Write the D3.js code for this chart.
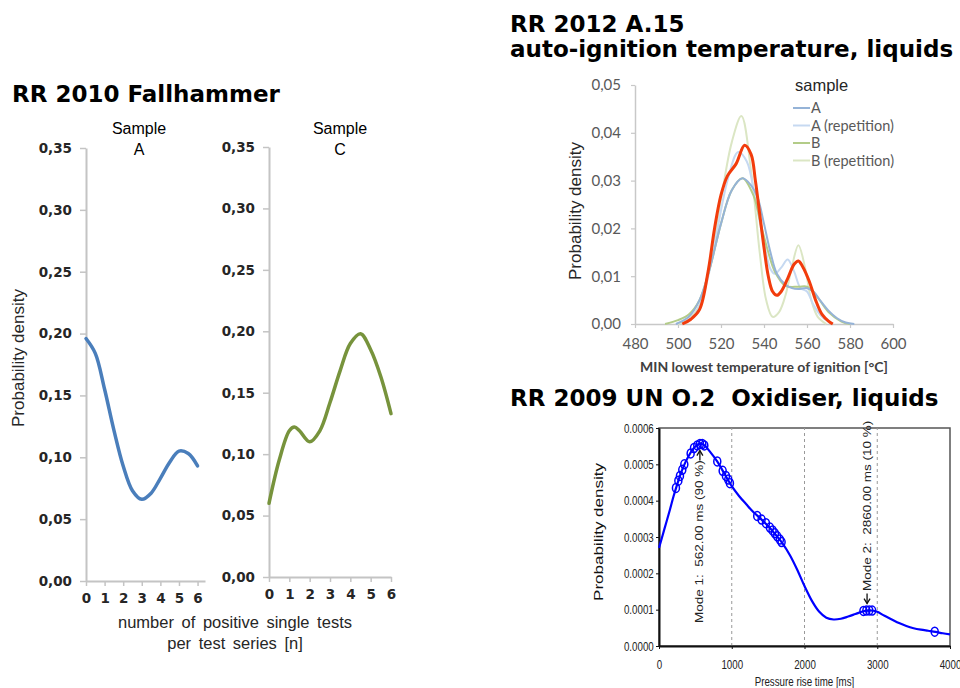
<!DOCTYPE html>
<html>
<head>
<meta charset="utf-8">
<script src="https://cdn.jsdelivr.net/npm/d3@7"></script>
<style>
  body { margin: 0; background: #fff; }
  svg { display: block; }
  .title { font-family: "DejaVu Sans", Verdana, sans-serif; font-weight: bold; font-size: 23px; fill: #000; white-space: pre; }
</style>
</head>
<body>
<div id="chart"></div>
<script>
// ---- RR 2010 Fallhammer : density of positive single tests per series ----
const fhTicksX = [0, 1, 2, 3, 4, 5, 6];
const fhTicksY = [0, 0.05, 0.10, 0.15, 0.20, 0.25, 0.30, 0.35];
const fhSampleA = [
  [0, 0.196], [0.5, 0.184], [1, 0.155], [1.5, 0.122], [2, 0.093], [2.5, 0.073],
  [3, 0.066], [3.5, 0.071], [4, 0.083], [4.5, 0.096], [5, 0.105], [5.5, 0.103], [6, 0.093]
];
const fhSampleC = [
  [0, 0.060], [0.5, 0.095], [1, 0.119], [1.25, 0.122], [1.5, 0.119], [2, 0.110],
  [2.5, 0.119], [3, 0.142], [3.5, 0.168], [4, 0.190], [4.5, 0.198], [5, 0.185],
  [5.5, 0.163], [6, 0.133]
];

// ---- RR 2012 A.15 : auto-ignition temperature, liquids ----
const aitTicksX = [480, 500, 520, 540, 560, 580, 600];
const aitTicksY = [0, 0.01, 0.02, 0.03, 0.04, 0.05];
const aitNames = ["A", "A (repetition)", "B", "B (repetition)"];
const aitA = [
  [499, 0], [505, 0.0015], [510, 0.005], [515, 0.012], [520, 0.021], [525, 0.028],
  [530, 0.0305], [534, 0.029], [537, 0.0265], [540, 0.021], [543, 0.015], [546, 0.0105],
  [550, 0.0082], [553, 0.0075], [556, 0.0073], [560, 0.0075], [563, 0.0068], [566, 0.005],
  [570, 0.0028], [574, 0.0012], [578, 0.0003], [582, 0]
];
const aitARep = [
  [502, 0], [508, 0.002], [513, 0.008], [518, 0.019], [523, 0.030], [528, 0.036],
  [532, 0.034], [536, 0.026], [540, 0.017], [543, 0.0115], [545, 0.0105], [548, 0.0118],
  [551, 0.0135], [554, 0.011], [557, 0.0075], [560, 0.0068], [563, 0.004], [567, 0.0015], [572, 0]
];
const aitB = [
  [494, 0], [500, 0.0008], [505, 0.002], [510, 0.005], [515, 0.012], [520, 0.021],
  [525, 0.028], [530, 0.0305], [535, 0.027], [539, 0.020], [542, 0.015], [545, 0.011],
  [550, 0.008], [556, 0.0078], [560, 0.0078], [565, 0.0055], [570, 0.0025], [576, 0.0005], [580, 0]
];
const aitBRep = [
  [500, 0], [505, 0.001], [510, 0.004], [515, 0.013], [520, 0.026], [525, 0.038],
  [529.5, 0.0435], [534, 0.032], [538, 0.015], [541, 0.005], [544, 0.0015], [547, 0.0025],
  [550, 0.006], [553, 0.012], [556, 0.0165], [559, 0.012], [562, 0.005], [565, 0.0015], [569, 0]
];
const aitOverall = [
  [502, 0], [506, 0.001], [510, 0.003], [514, 0.011], [517, 0.020], [520, 0.027],
  [523, 0.031], [527, 0.0335], [531, 0.0374], [534, 0.0355], [536, 0.030], [538, 0.023],
  [540, 0.016], [542, 0.010], [544, 0.0068], [546, 0.006], [548, 0.0068], [551, 0.0095],
  [554, 0.0125], [556, 0.0132], [558, 0.012], [561, 0.009], [564, 0.005], [567, 0.002],
  [570, 0.0006], [572, 0]
];

// ---- RR 2009 UN O.2 : oxidiser, liquids ----
const oxTicksX = [0, 1000, 2000, 3000, 4000];
const oxTicksY = [0, 0.0001, 0.0002, 0.0003, 0.0004, 0.0005, 0.0006];
const oxGridX = [1000, 2000, 3000];
const oxDensity = [
  [0, 0.000270], [50, 0.000305], [100, 0.000340], [150, 0.000375], [200, 0.000412],
  [250, 0.000445], [300, 0.000475], [350, 0.000500], [400, 0.000520], [450, 0.000537],
  [500, 0.000549], [563, 0.000557], [620, 0.000553], [700, 0.000535], [800, 0.000508],
  [900, 0.000474], [1000, 0.000440], [1100, 0.000413], [1200, 0.000390], [1300, 0.000368],
  [1400, 0.000350], [1500, 0.000330], [1600, 0.000307], [1700, 0.000282], [1800, 0.000250],
  [1900, 0.000210], [2000, 0.000165], [2100, 0.000125], [2200, 0.000095], [2300, 0.000078],
  [2400, 0.000073], [2500, 0.000075], [2600, 0.000081], [2700, 0.000088], [2800, 0.000095],
  [2860, 0.0000975], [2950, 0.000097], [3000, 0.000094], [3100, 0.000083], [3200, 0.000073],
  [3300, 0.000063], [3400, 0.000055], [3500, 0.000049], [3600, 0.000045], [3700, 0.000042],
  [3800, 0.000039], [3900, 0.000035], [4000, 0.000032]
];
const oxObserved = [
  [233, 0.000435], [266, 0.000455], [288, 0.000468], [320, 0.000485], [348, 0.000500],
  [435, 0.000530], [481, 0.000545], [526, 0.000552], [563, 0.000556], [595, 0.000556],
  [623, 0.000552], [801, 0.000508], [875, 0.000482], [920, 0.000468], [952, 0.000458],
  [975, 0.000448], [1350, 0.000358], [1410, 0.000348], [1470, 0.000338], [1525, 0.000326],
  [1561, 0.000318], [1593, 0.000310], [1625, 0.000302], [1662, 0.000293], [1685, 0.000286],
  [2810, 0.0000965], [2850, 0.0000975], [2890, 0.0000978], [2930, 0.0000975], [3790, 0.0000395]
];
const oxModes = [
  { ms: 562, density: 0.000557, label: "Mode 1:  562.00 ms (90 %)" },
  { ms: 2860, density: 0.0000975, label: "Mode 2:  2860.00 ms (10 %)" }
];

const commaFmt = d => d3.format(".2f")(d).replace(".", ",");

const svg = d3.select("#chart")
  .append("svg")
  .attr("width", 960)
  .attr("height", 688)
  .attr("viewBox", "0 0 960 688");

// ================= Fallhammer (two small panels) =================
svg.append("text").attr("class", "title").attr("x", 12).attr("y", 102).text("RR 2010 Fallhammer");

const fhPanels = [
  { name: "A", values: fhSampleA, color: "#4a7ebb", left: 86, right: 205, xMax: 6.4, top: 148, bottom: 581, titleX: 139 },
  { name: "C", values: fhSampleC, color: "#77933c", left: 269, right: 391, xMax: 6, top: 147, bottom: 577, titleX: 340 }
];

fhPanels.forEach(p => {
  const x = d3.scaleLinear().domain([0, p.xMax]).range([p.left, p.right]);
  const y = d3.scaleLinear().domain([0, 0.35]).range([p.bottom, p.top]);

  const gy = svg.append("g")
    .attr("transform", `translate(${p.left},0)`)
    .call(d3.axisLeft(y).tickValues(fhTicksY).tickSize(6).tickSizeOuter(0).tickPadding(8).tickFormat(commaFmt));
  const gx = svg.append("g")
    .attr("transform", `translate(0,${p.bottom})`)
    .call(d3.axisBottom(x).tickValues(fhTicksX).tickSize(5).tickSizeOuter(0).tickPadding(7).tickFormat(d3.format("d")));

  [gy, gx].forEach(g => {
    g.select(".domain").attr("stroke", "#c4c4c4").attr("stroke-width", 2);
    g.selectAll(".tick line").attr("stroke", "#c4c4c4").attr("stroke-width", 1.5);
    g.selectAll("text")
      .attr("fill", "#262626")
      .style("font-family", "'DejaVu Sans', Verdana, sans-serif")
      .style("font-weight", "bold")
      .style("font-size", "13.5px");
  });

  const line = d3.line()
    .x(d => x(d[0]))
    .y(d => y(d[1]))
    .curve(d3.curveCatmullRom.alpha(0.5));

  svg.append("path")
    .datum(p.values)
    .attr("fill", "none")
    .attr("stroke", p.color)
    .attr("stroke-width", 3.5)
    .attr("stroke-linecap", "round")
    .attr("d", line);

  // panel heading
  const head = svg.append("text")
    .attr("text-anchor", "middle")
    .style("font-family", "'Liberation Sans', Arial, sans-serif")
    .style("font-size", "16px")
    .attr("fill", "#000");
  head.append("tspan").attr("x", p.titleX).attr("y", 134).text("Sample");
  head.append("tspan").attr("x", p.titleX).attr("y", 155).text(p.name);
});

// shared axis labels
svg.append("text")
  .attr("transform", "translate(24,358) rotate(-90)")
  .attr("text-anchor", "middle")
  .style("font-family", "'Liberation Sans', Arial, sans-serif")
  .style("font-size", "17px")
  .attr("fill", "#262626")
  .text("Probability density");

const fhXLabel = svg.append("text")
  .attr("text-anchor", "middle")
  .style("font-family", "'Liberation Sans', Arial, sans-serif")
  .style("font-size", "16.5px")
  .style("word-spacing", "3px")
  .attr("fill", "#262626");
fhXLabel.append("tspan").attr("x", 235).attr("y", 628).text("number of positive single tests");
fhXLabel.append("tspan").attr("x", 235).attr("y", 649).text("per test series [n]");

// ================= A.15 auto-ignition temperature =================
const aitTitle = svg.append("text").attr("class", "title");
aitTitle.append("tspan").attr("x", 510).attr("y", 32).text("RR 2012 A.15");
aitTitle.append("tspan").attr("x", 510).attr("y", 57).text("auto-ignition temperature, liquids");

const ax = d3.scaleLinear().domain([480, 600]).range([635, 893]);
const ay = d3.scaleLinear().domain([0, 0.05]).range([324, 85]);

const aitGy = svg.append("g")
  .attr("transform", "translate(635,0)")
  .call(d3.axisLeft(ay).tickValues(aitTicksY).tickSize(4).tickSizeOuter(0).tickPadding(10).tickFormat(commaFmt));
const aitGx = svg.append("g")
  .attr("transform", "translate(0,324)")
  .call(d3.axisBottom(ax).tickValues(aitTicksX).tickSize(4).tickSizeOuter(0).tickPadding(10).tickFormat(d3.format("d")));

[aitGy, aitGx].forEach(g => {
  g.select(".domain").attr("stroke", "#c8c8c8").attr("stroke-width", 1.5);
  g.selectAll(".tick line").attr("stroke", "#c8c8c8").attr("stroke-width", 1.2);
  g.selectAll("text")
    .attr("fill", "#595959")
    .style("font-family", "Lato, 'Open Sans', sans-serif")
    .style("font-size", "15px");
});

const aitLine = d3.line()
  .x(d => ax(d[0]))
  .y(d => ay(d[1]))
  .curve(d3.curveCatmullRom.alpha(0.5));

const aitColors = d3.scaleOrdinal()
  .domain(aitNames)
  .range(["#95b3d7", "#c6d9f1", "#b3cc88", "#dbe6c4"]);

const aitSeries = [
  { name: "B (repetition)", values: aitBRep },
  { name: "A (repetition)", values: aitARep },
  { name: "B", values: aitB },
  { name: "A", values: aitA }
];

svg.selectAll(".ait-line")
  .data(aitSeries)
  .join("path")
  .attr("class", "ait-line")
  .attr("fill", "none")
  .attr("stroke", d => aitColors(d.name))
  .attr("stroke-width", 2)
  .attr("d", d => aitLine(d.values));

svg.append("path")
  .datum(aitOverall)
  .attr("fill", "none")
  .attr("stroke", "#f23c0c")
  .attr("stroke-width", 3)
  .attr("d", aitLine);

svg.append("text")
  .attr("transform", "translate(581,211) rotate(-90)")
  .attr("text-anchor", "middle")
  .style("font-family", "'Liberation Sans', Arial, sans-serif")
  .style("font-size", "17px")
  .attr("fill", "#262626")
  .text("Probability density");

svg.append("text")
  .attr("x", 764)
  .attr("y", 372)
  .attr("text-anchor", "middle")
  .style("font-family", "Lato, 'Open Sans', sans-serif")
  .style("font-weight", "bold")
  .style("font-size", "14px")
  .attr("fill", "#404040")
  .text("MIN lowest temperature of ignition [°C]");

// legend
const aitLegend = svg.append("g").attr("transform", "translate(793,91)");
aitLegend.append("text")
  .attr("x", 2)
  .attr("y", 0)
  .style("font-family", "'Liberation Sans', Arial, sans-serif")
  .style("font-size", "16.5px")
  .attr("fill", "#262626")
  .text("sample");

aitNames.forEach((name, i) => {
  const row = aitLegend.append("g").attr("transform", `translate(0, ${17 + i * 17.5})`);
  row.append("line")
    .attr("x1", 0).attr("x2", 17)
    .attr("y1", 0).attr("y2", 0)
    .attr("stroke", aitColors(name))
    .attr("stroke-width", 2);
  row.append("text")
    .attr("x", 18)
    .attr("y", 0)
    .attr("dy", "0.35em")
    .style("font-family", "Lato, 'Open Sans', sans-serif")
    .style("font-size", "14.5px")
    .attr("fill", "#595959")
    .text(name);
});

// ================= O.2 oxidiser, liquids =================
svg.append("text").attr("class", "title").attr("x", 510).attr("y", 406).text("RR 2009 UN O.2  Oxidiser, liquids");

const ox = d3.scaleLinear().domain([0, 4000]).range([659, 950]);
const oy = d3.scaleLinear().domain([0, 0.0006]).range([646, 428]);
const squash = "scale(0.75,1)";

// plot frame
svg.append("rect")
  .attr("x", ox(0)).attr("y", oy(0.0006))
  .attr("width", ox(4000) - ox(0)).attr("height", oy(0) - oy(0.0006))
  .attr("fill", "#fff")
  .attr("stroke", "#555")
  .attr("stroke-width", 1.5);

svg.selectAll(".ox-grid")
  .data(oxGridX)
  .join("line")
  .attr("class", "ox-grid")
  .attr("x1", d => ox(d)).attr("x2", d => ox(d))
  .attr("y1", oy(0)).attr("y2", oy(0.0006))
  .attr("stroke", "#999")
  .attr("stroke-width", 1)
  .attr("stroke-dasharray", "3,3");

const oxGy = svg.append("g")
  .attr("transform", `translate(${ox(0)},0)`)
  .call(d3.axisLeft(oy).tickValues(oxTicksY).tickSize(3).tickSizeOuter(0).tickPadding(4).tickFormat(d3.format(".4f")));
const oxGx = svg.append("g")
  .attr("transform", `translate(0,${oy(0)})`)
  .call(d3.axisBottom(ox).tickValues(oxTicksX).tickSize(3).tickSizeOuter(0).tickPadding(11).tickFormat(d3.format("d")));

[oxGy, oxGx].forEach(g => {
  g.select(".domain").attr("stroke", "#111").attr("stroke-width", 2);
  g.selectAll(".tick line").attr("stroke", "#111");
  g.selectAll("text")
    .attr("fill", "#222")
    .attr("transform", squash)
    .style("font-family", "'Liberation Sans', Arial, sans-serif")
    .style("font-size", "13px");
});

const oxLine = d3.line()
  .x(d => ox(d[0]))
  .y(d => oy(d[1]))
  .curve(d3.curveCatmullRom.alpha(0.5));

svg.append("path")
  .datum(oxDensity)
  .attr("fill", "none")
  .attr("stroke", "#0000ff")
  .attr("stroke-width", 2.2)
  .attr("d", oxLine);

svg.selectAll(".ox-obs")
  .data(oxObserved)
  .join("ellipse")
  .attr("class", "ox-obs")
  .attr("cx", d => ox(d[0]))
  .attr("cy", d => oy(d[1]))
  .attr("rx", 3.5)
  .attr("ry", 4.5)
  .attr("fill", "none")
  .attr("stroke", "#0000ff")
  .attr("stroke-width", 1.5);

// mode annotations
const modeLabelStart = [623, 591];
oxModes.forEach((m, i) => {
  const cx = ox(m.ms);
  const cy = oy(m.density);
  // arrow: mode 1 points up to the peak from below, mode 2 points down from above
  const dir = i === 0 ? 1 : -1;
  const tip = cy + dir * 7;
  const tail = tip + dir * 10;
  svg.append("line")
    .attr("x1", cx).attr("x2", cx)
    .attr("y1", tail).attr("y2", tip)
    .attr("stroke", "#111")
    .attr("stroke-width", 1.3);
  svg.append("path")
    .attr("d", `M${cx - 3},${tip + dir * 5} L${cx},${tip} L${cx + 3},${tip + dir * 5}`)
    .attr("fill", "none")
    .attr("stroke", "#111")
    .attr("stroke-width", 1.3);

  svg.append("text")
    .attr("transform", `translate(${cx},${modeLabelStart[i]}) ${squash} rotate(-90)`)
    .attr("dy", "0.35em")
    .style("font-family", "'Liberation Sans', Arial, sans-serif")
    .style("font-size", "13.5px")
    .style("white-space", "pre")
    .attr("fill", "#222")
    .text(m.label);
});

svg.append("text")
  .attr("transform", `translate(603,532) ${squash} rotate(-90)`)
  .attr("text-anchor", "middle")
  .style("font-family", "'Liberation Sans', Arial, sans-serif")
  .style("font-size", "17px")
  .attr("fill", "#111")
  .text("Probability density");

svg.append("text")
  .attr("transform", `translate(${ox(2000)},686) ${squash}`)
  .attr("text-anchor", "middle")
  .style("font-family", "'Liberation Sans', Arial, sans-serif")
  .style("font-size", "13px")
  .attr("fill", "#222")
  .text("Pressure rise time [ms]");
</script>
</body>
</html>
